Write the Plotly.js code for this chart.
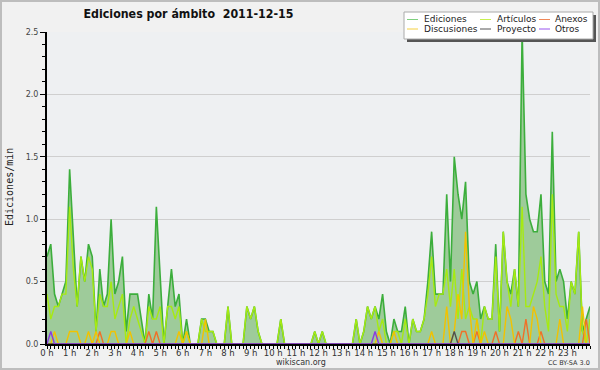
<!DOCTYPE html>
<html><head><meta charset="utf-8">
<script src="https://cdn.plot.ly/plotly-3.0.1.min.js"></script>
<style>
html,body{margin:0;padding:0;background:#f1f1f1;}
#chart{position:absolute;left:0;top:0;width:600px;height:370px;}
#frame{position:absolute;left:0;top:0;width:600px;height:370px;box-sizing:border-box;border:2px solid #bdbdbd;pointer-events:none;}
</style>
</head><body>
<div id="chart"></div><div id="frame"></div>
<script>
// 10-minute samples from 0 h to 24 h (145 points), edits per minute
const ediciones = [0.7,0.8,0.4,0.3,0.4,0.5,1.4,0.8,0.3,0.7,0.5,0.8,0.7,0.1,0.6,0.3,0.4,1.0,0.4,0.5,0.7,0.1,0.4,0.4,0.4,0.2,0.0,0.4,0.2,1.1,0.5,0.0,0.3,0.6,0.3,0.4,0.0,0.2,0.0,0.0,
  0.0,0.2,0.2,0.1,0.1,0.0,0.0,0.0,0.3,0.0,0.0,0.0,0.0,0.3,0.2,0.3,0.1,0.0,0.0,0.0,0.0,0.0,0.2,0.0,0.0,0.0,0.0,0.0,0.0,0.0,
  0.0,0.1,0.0,0.1,0.0,0.0,0.0,0.0,0.0,0.0,0.0,0.0,0.2,0.0,0.1,0.3,0.2,0.3,0.2,0.4,0.1,0.0,0.2,0.1,0.1,0.3,0.0,0.2,0.1,0.1,
  0.2,0.5,0.9,0.4,0.4,0.4,1.2,0.5,1.5,1.2,1.0,1.3,0.5,0.4,0.5,0.2,0.3,0.2,0.2,0.8,0.1,0.9,0.5,0.4,0.6,0.3,2.5,1.2,1.0,0.9,
  0.9,1.2,0.5,0.4,1.7,0.5,0.6,0.5,0.2,0.5,0.4,0.9,0.1,0.2,0.3];
const articulos = [0.4,0.2,0.3,0.3,0.4,0.4,1.1,0.6,0.3,0.7,0.5,0.7,0.6,0.1,0.4,0.3,0.3,0.5,0.2,0.3,0.4,0.0,0.2,0.3,0.2,0.1,0.0,0.3,0.2,0.2,0.3,0.0,0.3,0.3,0.2,0.3,0.0,0.1,0.0,0.0,
  0.0,0.2,0.1,0.1,0.1,0.0,0.0,0.0,0.3,0.0,0.0,0.0,0.0,0.3,0.2,0.3,0.1,0.0,0.0,0.0,0.0,0.0,0.2,0.0,0.0,0.0,0.0,0.0,0.0,0.0,
  0.0,0.1,0.0,0.1,0.0,0.0,0.0,0.0,0.0,0.0,0.0,0.0,0.2,0.0,0.1,0.3,0.2,0.3,0.1,0.2,0.0,0.0,0.1,0.1,0.0,0.2,0.0,0.2,0.1,0.1,
  0.2,0.4,0.7,0.3,0.4,0.4,0.6,0.3,0.6,0.2,0.6,0.2,0.3,0.2,0.2,0.0,0.3,0.2,0.2,0.7,0.1,0.9,0.5,0.3,0.6,0.3,1.1,0.3,0.3,0.4,
  0.5,0.7,0.3,0.1,1.2,0.4,0.3,0.3,0.1,0.5,0.4,0.9,0.1,0.0,0.2];
const anexos = [0,0,0,0,0,0,0,0,0,0,0,0,0,0,0.1,0,0,0,0,0,0,0,0,0,0,0,0,0.1,0,0.1,0,0,0,0,0,0,0,0,0,0,
  0,0,0,0,0,0,0,0,0,0,0,0,0,0,0,0,0,0,0,0,0,0,0,0,0,0,0,0,0,0,
  0,0,0,0,0,0,0,0,0,0,0,0,0,0,0,0,0,0,0,0,0,0,0,0,0,0,0,0,0,0,
  0,0,0,0,0,0,0,0,0,0,0.1,0.1,0,0,0.1,0,0,0,0,0.1,0,0,0,0,0,0.1,0,0.2,0,0,
  0,0.1,0,0,0,0,0,0,0,0,0,0,0,0.2,0];
const discusiones = [0,0,0.1,0,0,0,0.1,0.1,0.1,0,0,0.1,0,0.1,0,0,0,0.1,0.1,0,0,0,0.1,0,0,0,0,0,0,0,0,0,0,0,0,0.1,0,0.1,0,0,
  0,0,0.2,0,0,0,0,0,0,0,0,0,0,0,0,0,0,0,0,0,0,0,0,0,0,0,0,0,0,0,
  0,0,0,0,0,0,0,0,0,0,0,0,0,0,0,0,0,0,0.1,0,0,0,0.1,0,0,0,0,0,0,0,
  0,0,0.1,0,0,0,0.3,0,0.1,0.4,0.2,0.9,0.3,0,0.2,0,0.1,0,0,0,0,0,0.3,0.2,0,0,0,0,0,0.3,
  0.2,0,0,0,0,0,0.2,0,0,0,0,0,0.3,0,0];
const proyecto = [0,0,0,0,0,0,0,0,0,0,0,0,0,0,0,0,0,0,0,0,0,0,0,0,0,0,0,0,0,0,0,0,0,0,0,0,0,0,0,0,
  0,0,0,0,0,0,0,0,0,0,0,0,0,0,0,0,0,0,0,0,0,0,0,0,0,0,0,0,0,0,
  0,0,0,0,0,0,0,0,0,0,0,0,0,0,0,0,0,0,0,0,0,0,0,0,0,0,0,0,0,0,
  0,0,0,0,0,0,0,0,0.1,0,0,0,0,0,0,0,0,0,0,0,0,0,0,0,0,0,0,0,0,0,
  0,0,0,0,0,0,0,0,0,0,0,0,0,0,0];
const otros = [0,0.1,0,0,0,0,0,0,0,0,0,0,0,0,0,0,0,0,0,0,0,0,0,0,0,0,0,0,0,0,0,0,0,0,0,0,0,0,0,0,
  0,0,0,0,0,0,0,0,0,0,0,0,0,0,0,0,0,0,0,0,0,0,0,0,0,0,0,0,0,0,
  0,0,0,0,0,0,0,0,0,0,0,0,0,0,0,0,0,0.1,0,0,0,0,0,0,0,0,0,0,0,0,
  0,0,0,0,0,0,0,0,0,0,0,0,0,0,0,0,0,0,0,0,0,0,0,0,0,0,0,0,0,0,
  0,0,0,0,0,0,0,0,0,0,0,0,0,0,0];
const hourLabels = ["0 h","1 h","2 h","3 h","4 h","5 h","6 h","7 h","8 h","9 h","10 h","11 h","12 h","13 h","14 h","15 h","16 h","17 h","18 h","19 h","20 h","21 h","22 h","23 h"];
const seriesNames = ["Ediciones","Artículos","Anexos","Discusiones","Proyecto","Otros"];
const seriesColors = ["#3cae3c","#a6ea12","#f07028","#f2c200","#505050","#8a3ce0"];
const legendColors = ["#7fd07f","#c8f050","#f08858","#f5d040","#555555","#9955ee"];

const times = ediciones.map((_, i) => i / 6);
const hourVals = hourLabels.map((_, i) => i);
const seriesData = [ediciones, articulos, anexos, discusiones, proyecto, otros];

const traces = seriesData.map((vals, k) => {
  const t = {x: times, y: vals, type: 'scatter', mode: 'lines', name: seriesNames[k],
    line: {color: seriesColors[k], width: k === 0 ? 1.6 : 1.4}, showlegend: false, hoverinfo: 'skip'};
  if (k === 0) { t.fill = 'tozeroy'; t.fillcolor = '#9ecb9a'; }
  return t;
});

const L = 47, R = 10, T = 32, B = 26, W = 600, H = 370;
const pw = W - L - R, ph = H - T - B;
const X = px => (px - L) / pw;
const Y = py => (H - B - py) / ph;

const shapes = [
  {type:'rect', xref:'paper', yref:'paper', x0:X(407), x1:X(596), y0:Y(42), y1:Y(15), fillcolor:'#555', line:{width:0}},
  {type:'rect', xref:'paper', yref:'paper', x0:X(404), x1:X(593), y0:Y(39), y1:Y(12), fillcolor:'#ffffff', line:{color:'#aaa', width:1}}
];
const annotations = [];
const colSw = [407, 480, 539], colTx = [423, 496, 554], rowY = [19.5, 29];
const legendOrder = [0, 1, 2, 3, 4, 5];
legendOrder.forEach((k, n) => {
  const c = n % 3, r = Math.floor(n / 3);
  shapes.push({type:'line', xref:'paper', yref:'paper', x0:X(colSw[c]), x1:X(colSw[c] + 11), y0:Y(rowY[r]), y1:Y(rowY[r]), line:{color: legendColors[k], width:1}});
  annotations.push({xref:'paper', yref:'paper', x:X(colTx[c]), y:Y(rowY[r]), xanchor:'left', yanchor:'middle', showarrow:false,
    text: seriesNames[k], font:{family:'DejaVu Sans', size:9, color:'#222'}, borderpad:0});
});
annotations.push({xref:'paper', yref:'paper', x:X(9), y:Y(187), textangle:-90, showarrow:false, xanchor:'center', yanchor:'middle',
  text:'Ediciones/min', font:{family:'DejaVu Sans Mono', size:10, color:'#222'}});
annotations.push({xref:'paper', yref:'paper', x:X(300.5), y:Y(362), showarrow:false, xanchor:'center', yanchor:'middle',
  text:'wikiscan.org', font:{family:'DejaVu Sans', size:8, color:'#333'}, borderpad:0});
annotations.push({xref:'paper', yref:'paper', x:X(569), y:Y(363), showarrow:false, xanchor:'center', yanchor:'middle',
  text:'CC BY-SA 3.0', font:{family:'DejaVu Sans', size:6.5, color:'#333'}, borderpad:0});

const layout = {
  width: W, height: H,
  margin: {l: L, r: R, t: T, b: B, pad: 0},
  paper_bgcolor: '#f1f1f1', plot_bgcolor: '#eef0f2',
  showlegend: false,
  title: {text: '<b>Ediciones por ámbito\u00a0\u00a02011-12-15</b>', x: 188.5 / W, xref: 'container', xanchor: 'center',
    y: 1 - 14 / H, yref: 'container', yanchor: 'middle', font: {family: 'DejaVu Sans Condensed, DejaVu Sans', size: 12.3, color: '#111'}},
  xaxis: {range: [0, 24], tickmode: 'array', tickvals: hourVals, ticktext: hourLabels, ticks: 'outside', ticklen: 3, tickwidth: 1, tickcolor: '#000',
    showline: true, linecolor: '#000', linewidth: 2, showgrid: false, zeroline: false, fixedrange: true, ticklabelstandoff: -3,
    tickfont: {family: 'DejaVu Sans', size: 8.5, color: '#333'},
    minor: {tickmode: 'linear', tick0: 0, dtick: 1 / 6, ticks: 'outside', ticklen: 3, tickcolor: '#000', showgrid: false}},
  yaxis: {range: [0, 2.5], tickmode: 'linear', tick0: 0, dtick: 0.5, tickformat: '.1f', ticks: 'outside', ticklen: 5, tickwidth: 1, tickcolor: '#000',
    showline: true, linecolor: '#000', linewidth: 2, showgrid: true, gridcolor: '#cfcfcf', gridwidth: 1, zeroline: false, fixedrange: true,
    tickfont: {family: 'DejaVu Sans', size: 8, color: '#444'},
    minor: {tickmode: 'linear', tick0: 0, dtick: 0.1, ticks: 'outside', ticklen: 3, tickcolor: '#000', showgrid: false}},
  shapes: shapes,
  annotations: annotations
};

Plotly.newPlot('chart', traces, layout, {displayModeBar: false, staticPlot: true});
</script>
</body></html>
